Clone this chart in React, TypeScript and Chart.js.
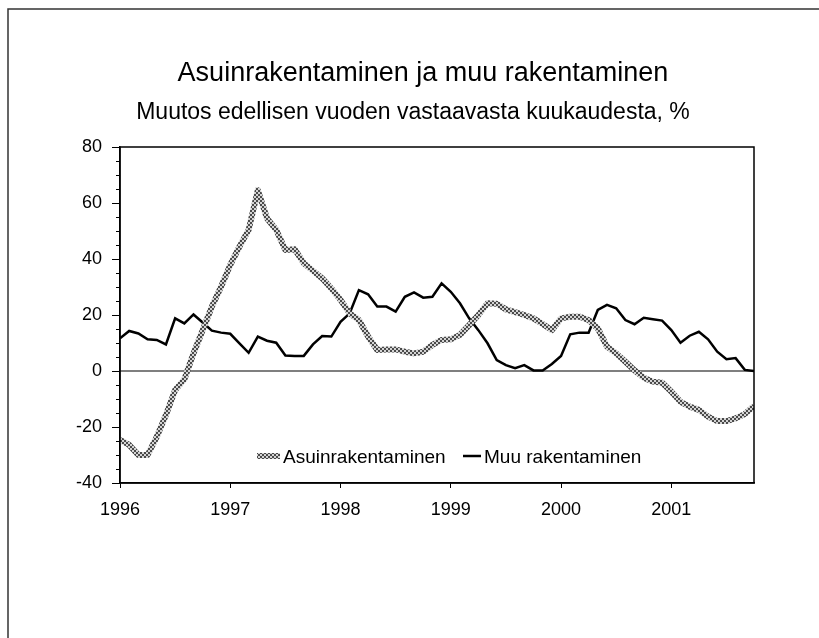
import React, { useEffect, useRef } from "react";
import { Chart, registerables } from "chart.js";

Chart.register(...registerables);

const TITLE = "Asuinrakentaminen ja muu rakentaminen";
const SUBTITLE = "Muutos edellisen vuoden vastaavasta kuukaudesta, %";
const SERIES_NAMES = ["Asuinrakentaminen", "Muu rakentaminen"];
const YEAR_LABELS = ["1996", "1997", "1998", "1999", "2000", "2001"];
const Y_MIN = -40;
const Y_MAX = 80;
const Y_STEP = 20;

// Monthly values, Jan 1996 .. Oct 2001
const asuinrakentaminen = [
  -24.6, -26.4, -30, -30, -23.5, -15.7, -6.8, -3, 6.3, 14.6, 23, 30.1,
  37.9, 44.4, 50.4, 64.6, 54.5, 50.4, 43.2, 43.5, 38.5, 35.8, 33.1, 29.5,
  25.4, 20.6, 18.2, 12.3, 7.5, 7.7, 7.7, 6.9, 6.3, 6.9, 9.3, 11.1,
  11.3, 12.9, 16.4, 20, 24.2, 24, 22, 21, 20, 18.8, 16.8, 14.6,
  18.8, 19.4, 19.4, 18.2, 15.2, 8.7, 6.3, 3.3, 0.2, -2.4, -3.8, -4.2,
  -7.4, -11, -12.7, -13.9, -16.3, -17.9, -17.9, -16.9, -15.4, -12.5,
];

const muuRakentaminen = [
  11.7, 14.3, 13.4, 11.3, 11.1, 9.5, 18.8, 17, 20.2, 17.3, 14.4, 13.7,
  13.3, 9.9, 6.5, 12.3, 10.8, 10.1, 5.5, 5.4, 5.4, 9.5, 12.5, 12.3,
  17.6, 20.6, 28.9, 27.4, 23, 23, 21.2, 26.5, 28.1, 26.2, 26.5, 31.3,
  28.3, 24.2, 18.8, 14.6, 9.9, 3.9, 2.1, 1, 2.1, 0.2, 0.2, 2.5,
  5.4, 13.1, 13.7, 13.7, 21.8, 23.6, 22.4, 18.2, 16.7, 19, 18.5, 18,
  14.6, 10.1, 12.6, 14, 11.3, 6.9, 4.2, 4.6, 0.4, 0,
];

const FONT = "'Liberation Sans', Arial, Helvetica, sans-serif";

export default function App() {
  const ref = useRef<HTMLCanvasElement>(null);

  useEffect(() => {
    document.body.style.margin = "0";
    document.body.style.overflow = "hidden";
    const canvas = ref.current!;
    const ctx = canvas.getContext("2d")!;

    const pc = document.createElement("canvas");
    pc.width = 4;
    pc.height = 4;
    const p = pc.getContext("2d")!;
    p.fillStyle = "#d4d4d4";
    p.fillRect(0, 0, 4, 4);
    p.fillStyle = "#4a4a4a";
    p.fillRect(0, 0, 2, 2);
    p.fillRect(2, 2, 2, 2);
    const pattern = ctx.createPattern(pc, "repeat")!;

    const deco = {
      id: "deco",
      beforeDatasetsDraw(chart: any) {
        const c = chart.ctx;
        const a = chart.chartArea;
        const y0 = chart.scales.y.getPixelForValue(0);
        c.save();
        c.strokeStyle = "#000";
        c.lineWidth = 1.2;
        c.beginPath();
        c.moveTo(a.left, y0);
        c.lineTo(a.right, y0);
        c.stroke();
        c.restore();
      },
      afterDatasetsDraw(chart: any) {
        const c = chart.ctx;
        const a = chart.chartArea;
        const ys = chart.scales.y;
        c.save();
        c.strokeStyle = "#000";
        c.lineWidth = 1.5;
        c.strokeRect(a.left, a.top, a.right - a.left, a.bottom - a.top);
        c.lineWidth = 1;
        for (let v = Y_MIN; v <= Y_MAX; v += 5) {
          if (v % Y_STEP === 0) continue;
          const y = Math.round(ys.getPixelForValue(v)) + 0.5;
          c.beginPath();
          c.moveTo(a.left - 4, y);
          c.lineTo(a.left, y);
          c.stroke();
        }
        c.restore();
      },
      afterDraw(chart: any) {
        const c = chart.ctx;
        c.save();
        // outer frame (top and left edges)
        c.strokeStyle = "#333";
        c.lineWidth = 1.5;
        c.beginPath();
        c.moveTo(819, 9);
        c.lineTo(8, 9);
        c.lineTo(8, 638);
        c.stroke();
        // titles
        c.fillStyle = "#000";
        c.textAlign = "center";
        c.textBaseline = "alphabetic";
        c.font = `27px ${FONT}`;
        c.fillText(TITLE, 423, 81);
        c.font = `23px ${FONT}`;
        c.fillText(SUBTITLE, 413, 119);
        // legend inside plot
        const ly = 456;
        c.strokeStyle = pattern;
        c.lineWidth = 6;
        c.beginPath();
        c.moveTo(257, ly);
        c.lineTo(280, ly);
        c.stroke();
        c.strokeStyle = "#000";
        c.lineWidth = 2.5;
        c.beginPath();
        c.moveTo(463, ly);
        c.lineTo(481, ly);
        c.stroke();
        c.font = `19px ${FONT}`;
        c.textAlign = "left";
        c.fillText(SERIES_NAMES[0], 283, 463);
        c.fillText(SERIES_NAMES[1], 484, 463);
        c.restore();
      },
    };

    const chart = new Chart(canvas, {
      type: "line",
      data: {
        datasets: [
          {
            label: SERIES_NAMES[0],
            data: asuinrakentaminen.map((v, i) => ({ x: i, y: v })),
            borderColor: pattern as any,
            borderWidth: 6,
            pointRadius: 0,
            tension: 0,
            borderJoinStyle: "round",
          },
          {
            label: SERIES_NAMES[1],
            data: muuRakentaminen.map((v, i) => ({ x: i, y: v })),
            borderColor: "#000",
            borderWidth: 2.5,
            pointRadius: 0,
            tension: 0,
          },
        ],
      },
      options: {
        responsive: false,
        animation: false,
        devicePixelRatio: 1,
        layout: { padding: { top: 147, right: 65, bottom: 115, left: 0 } },
        plugins: {
          legend: { display: false },
          title: { display: false },
          tooltip: { enabled: false },
        },
        scales: {
          x: {
            type: "linear",
            min: 0,
            max: asuinrakentaminen.length - 1,
            afterFit: (s: any) => {
              s.height = 40;
            },
            afterBuildTicks: (s: any) => {
              s.ticks = YEAR_LABELS.map((_, k) => ({ value: k * 12 }));
            },
            ticks: {
              autoSkip: false,
              maxRotation: 0,
              color: "#000",
              padding: 11,
              font: { family: FONT, size: 18 },
              callback: (v: any) => YEAR_LABELS[Math.round(Number(v) / 12)] ?? "",
            },
            grid: { drawOnChartArea: false, tickLength: 5, color: "#000" },
            border: { color: "#000", width: 1.5 },
          },
          y: {
            min: Y_MIN,
            max: Y_MAX,
            afterFit: (s: any) => {
              s.width = 120;
            },
            ticks: {
              stepSize: Y_STEP,
              color: "#000",
              padding: 10,
              font: { family: FONT, size: 18 },
            },
            grid: { drawOnChartArea: false, tickLength: 8, color: "#000" },
            border: { color: "#000", width: 1.5 },
          },
        },
      },
      plugins: [deco],
    });
    return () => chart.destroy();
  }, []);

  return (
    <div style={{ width: 819, height: 638, background: "#fff" }}>
      <canvas ref={ref} width={819} height={638} />
    </div>
  );
}
